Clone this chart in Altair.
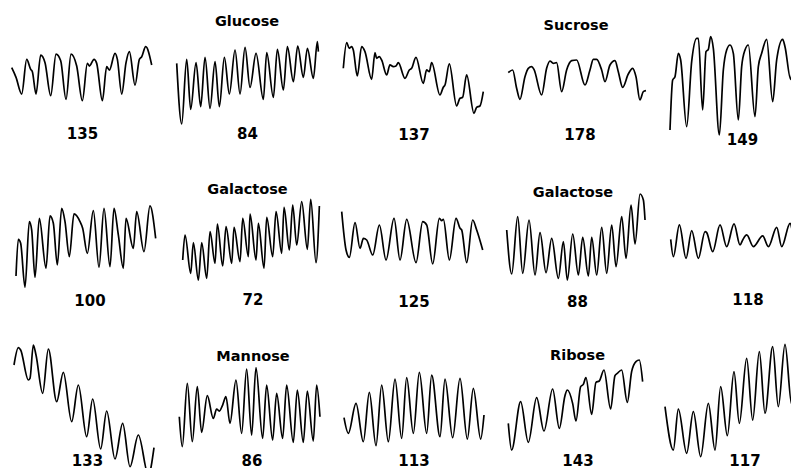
import altair as alt
import pandas as pd

# ---- Trace readings: (time, signal) pairs, arbitrary units ----
trace_135 = [(0,99),(13,70),(30,20),(45,124),(57,94),(62,87),(73,20),(87,137),(100,114),(117,15),(133,140),(147,120),(163,4),(178,140),(195,104),(212,0),(227,112),(233,104),(247,124),(255,112),(272,0),(285,102),(293,92),(310,142),(317,124),(330,20),(343,114),(353,147),(370,47),(383,124),(390,132),(402,162),(420,107)]
trace_84 = [(0,182),(15,0),(30,194),(42,44),(58,184),(72,52),(85,200),(100,47),(115,187),(128,52),(143,200),(158,90),(175,222),(190,90),(205,230),(220,110),(238,212),(260,74),(270,214),(290,80),(302,224),(320,102),(332,232),(350,127),(363,234),(380,140),(392,227),(410,137),(422,247),(425,217)]
trace_137 = [(0,135),(10,212),(18,195),(25,200),(30,190),(42,112),(55,200),(65,185),(85,102),(95,182),(100,165),(108,170),(115,160),(130,115),(140,145),(150,140),(158,142),(165,152),(185,105),(198,130),(205,135),(218,168),(240,90),(250,130),(258,125),(265,152),(290,55),(300,78),(305,85),(318,148),(340,22),(350,45),(358,48),(370,115),(392,0),(400,18),(410,22),(420,65)]
trace_178 = [(0,82),(13,90),(25,35),(35,2),(50,70),(60,95),(70,100),(77,92),(100,15),(115,95),(125,117),(135,110),(145,112),(160,25),(175,90),(190,118),(205,120),(230,45),(245,90),(255,122),(265,122),(280,90),(290,55),(305,105),(320,118),(330,85),(343,38),(360,78),(373,95),(383,70),(395,0),(405,25),(413,28)]
trace_149 = [(0,15),(8,165),(15,175),(25,245),(32,225),(50,25),(65,220),(80,290),(85,290),(98,75),(108,250),(115,257),(122,295),(130,260),(148,0),(160,195),(170,255),(180,270),(190,245),(205,45),(215,205),(225,255),(235,270),(255,55),(265,205),(275,245),(290,287),(308,100),(320,225),(338,287),(345,265),(362,167),(375,260),(385,270)]
trace_100 = [(0,34),(7,144),(14,132),(27,0),(40,197),(47,172),(57,30),(70,207),(90,57),(102,214),(112,192),(124,67),(137,237),(147,197),(160,92),(174,220),(192,197),(200,177),(214,102),(232,230),(249,60),(264,237),(282,62),(294,237),(307,157),(322,57),(330,207),(352,117),(362,227),(384,107),(402,244),(419,147)]
trace_72 = [(0,60),(7,135),(24,20),(32,112),(47,0),(57,112),(72,5),(82,145),(97,50),(104,168),(120,42),(130,160),(147,50),(154,158),(172,55),(180,185),(197,70),(202,198),(220,60),(227,170),(244,35),(252,188),(270,70),(280,205),(297,80),(304,218),(320,90),(330,225),(342,105),(357,235),(374,92),(384,242),(400,52),(410,222)]
trace_125 = [(0,157),(13,42),(23,20),(40,124),(55,47),(65,77),(75,72),(93,27),(113,117),(133,12),(157,137),(175,12),(195,134),(223,4),(243,127),(255,117),(273,0),(293,137),(300,130),(305,134),(323,12),(343,137),(355,107),(360,102),(375,4),(393,132),(405,102),(423,42)]
trace_88 = [(0,150),(15,18),(33,190),(48,20),(67,180),(85,15),(100,142),(118,22),(135,125),(155,5),(170,115),(182,0),(198,138),(215,15),(228,128),(245,12),(255,128),(270,15),(285,158),(300,20),(315,165),(328,40),(345,190),(358,65),(373,225),(385,108),(400,258),(410,240),(415,180)]
trace_118 = [(0,57),(8,5),(26,100),(46,0),(63,83),(83,0),(103,80),(108,77),(126,20),(148,100),(168,35),(190,103),(208,40),(216,55),(228,70),(248,35),(276,67),(293,35),(318,93),(333,35),(358,105),(373,50),(385,65)]
trace_133 = [(0,330),(13,382),(20,375),(43,285),(48,290),(58,390),(66,360),(86,245),(103,378),(128,220),(148,308),(173,160),(193,270),(218,115),(236,228),(260,78),(278,192),(303,48),(326,155),(348,25),(373,120),(403,0),(420,82)]
trace_86 = [(0,90),(9,0),(24,190),(39,15),(54,180),(67,43),(84,153),(102,85),(112,113),(120,107),(130,125),(140,150),(152,70),(170,200),(187,40),(202,233),(217,35),(230,237),(250,25),(262,185),(280,20),(292,160),(310,25),(322,185),(342,13),(354,170),(372,13),(384,167),(402,17),(412,185),(422,90)]
trace_113 = [(0,84),(13,37),(36,127),(58,12),(76,160),(96,0),(113,182),(133,12),(153,200),(173,22),(188,204),(208,37),(226,220),(248,37),(263,212),(288,27),(303,200),(326,24),(348,202),(370,20),(388,172),(410,20),(420,92)]
trace_143 = [(0,80),(10,0),(37,145),(60,23),(85,157),(107,57),(133,183),(153,65),(170,163),(177,180),(193,140),(203,87),(217,190),(225,197),(233,217),(250,107),(263,203),(273,207),(287,240),(307,123),(320,223),(327,230),(340,240),(357,143),(370,235),(383,265),(393,270),(403,205)]
trace_117 = [(0,150),(25,20),(40,143),(65,10),(85,135),(107,0),(130,160),(150,20),(167,210),(187,63),(207,255),(223,100),(245,295),(263,110),(283,315),(300,130),(323,330),(340,150),(360,337),(380,157),(400,295)]

labels = ["135", "84", "137", "178", "149",
          "100", "72", "125", "88", "118",
          "133", "86", "113", "143", "117"]
titles = ["", "Glucose", "", "Sucrose", "",
          "", "Galactose", "", "Galactose", "",
          "", "Mannose", "", "Ribose", ""]
traces = [trace_135, trace_84, trace_137, trace_178, trace_149,
          trace_100, trace_72, trace_125, trace_88, trace_118,
          trace_133, trace_86, trace_113, trace_143, trace_117]

# ---- Layout (pixels on the page) ----
LEFTS = [8, 172, 337, 502, 662]
WIDTHS = [159, 160, 160, 155, 129]
TOPS = [8, 168, 328]
HEIGHTS = [152, 152, 140]
UNIT = 3.0  # data units per pixel
# per panel: trace start x, trace baseline y, label x, label y, title x, title y
layout = [
    (11.7, 100.7, 82.5, 134, 0, 0), (176.7, 124, 247.5, 134, 247, 22),
    (343.3, 113.3, 414, 135, 0, 0), (508.3, 100, 580, 135, 576, 26),
    (670, 135, 742.5, 140, 0, 0),
    (16, 287.3, 90, 300.7, 0, 0), (182.7, 280, 253, 300, 247.5, 190),
    (341.7, 264, 414, 301.7, 0, 0), (506.7, 280, 577.5, 301.7, 573, 193),
    (670.7, 258.3, 748, 300, 0, 0),
    (14, 475, 87.5, 462, 0, 0), (179.3, 446.7, 252, 462, 253, 357),
    (344, 445.7, 414, 462, 0, 0), (508.3, 450, 578, 462, 577.5, 356),
    (665, 456.7, 745, 462, 0, 0),
]

FONT = "DejaVu Sans"


def panel(i):
    row, col = divmod(i, 5)
    w, h = WIDTHS[col], HEIGHTS[row]
    left, top = LEFTS[col], TOPS[row]
    x0, ybase, lx, ly, tx, ty = layout[i]
    df = pd.DataFrame(traces[i], columns=["t", "v"])
    xlo = -UNIT * (x0 - left)
    base = ybase - top
    ylo = UNIT * (base - h)
    line = alt.Chart(df).mark_line(
        interpolate="monotone", color="black", strokeWidth=1.7, clip=True
    ).encode(
        x=alt.X("t:Q", scale=alt.Scale(domain=[xlo, xlo + UNIT * w], nice=False, zero=False), axis=None),
        y=alt.Y("v:Q", scale=alt.Scale(domain=[ylo, ylo + UNIT * h], nice=False, zero=False), axis=None),
    )
    layers = [line]
    num = alt.Chart(pd.DataFrame({"s": [labels[i]]})).mark_text(
        font=FONT, fontSize=15, fontWeight="bold", color="black", baseline="middle", align="center"
    ).encode(text="s:N", x=alt.value(lx - left), y=alt.value(min(ly - top, h - 7)))
    layers.append(num)
    if titles[i]:
        tt = alt.Chart(pd.DataFrame({"s": [titles[i]]})).mark_text(
            font=FONT, fontSize=14.5, fontWeight="bold", color="black", baseline="middle", align="center"
        ).encode(text="s:N", x=alt.value(tx - left), y=alt.value(ty - top))
        layers.append(tt)
    return alt.layer(*layers).properties(width=w, height=h)


rows = [alt.hconcat(*[panel(r * 5 + c) for c in range(5)], spacing=5) for r in range(3)]
chart = alt.vconcat(*rows, spacing=8).properties(padding=0, background="white").configure_view(stroke=None)

chart.save("out.html", embed_options={"renderer": "svg", "actions": False})
